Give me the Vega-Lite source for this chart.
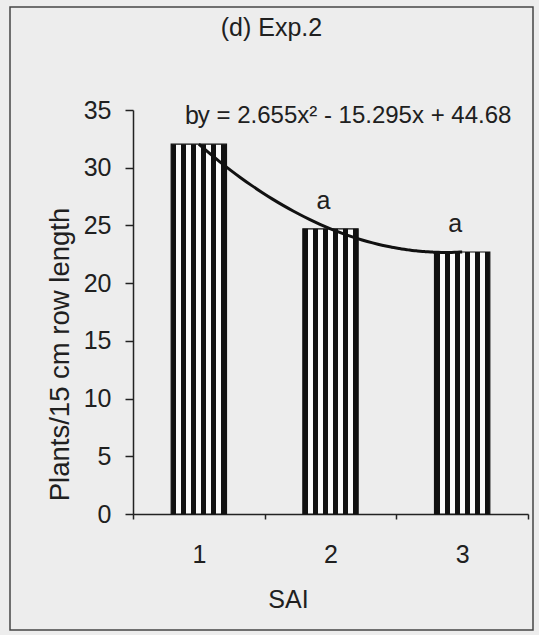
{
  "$schema": "https://vega.github.io/schema/vega-lite/v6.json",
  "width": 523,
  "height": 623,
  "autosize": {"type": "none"},
  "padding": {"left": 10, "top": 7, "right": 6, "bottom": 5},
  "background": "#ededed",
  "config": {
    "font": "Liberation Sans",
    "view": {"stroke": "#454545", "strokeWidth": 1.5},
    "axis": {
      "domainColor": "#222222",
      "domainWidth": 1.5,
      "tickColor": "#222222",
      "tickWidth": 1.5,
      "labelColor": "#202020",
      "titleColor": "#202020",
      "labelFont": "Liberation Sans",
      "titleFont": "Liberation Sans",
      "titleFontWeight": "normal",
      "grid": false
    }
  },
  "title": {
    "text": "(d) Exp.2",
    "fontSize": 25,
    "fontWeight": "normal",
    "color": "#202020",
    "anchor": "middle",
    "baseline": "middle",
    "offset": -46
  },
  "data": {
    "values": [
      {"sai": 1, "plants": 32.04, "letter": "b"},
      {"sai": 2, "plants": 24.71, "letter": "a"},
      {"sai": 3, "plants": 22.7, "letter": "a"}
    ]
  },
  "layer": [
    {
      "mark": {
        "type": "bar",
        "width": {"band": 0.42},
        "stroke": "#111111",
        "strokeWidth": 1.2,
        "color": {
          "gradient": "linear",
          "x1": 0, "x2": 1, "y1": 0, "y2": 0,
          "stops": [
            {"offset": 0, "color": "#111111"},
            {"offset": 0.095, "color": "#111111"},
            {"offset": 0.095, "color": "#fafafa"},
            {"offset": 0.181, "color": "#fafafa"},
            {"offset": 0.181, "color": "#111111"},
            {"offset": 0.276, "color": "#111111"},
            {"offset": 0.276, "color": "#fafafa"},
            {"offset": 0.362, "color": "#fafafa"},
            {"offset": 0.362, "color": "#111111"},
            {"offset": 0.457, "color": "#111111"},
            {"offset": 0.457, "color": "#fafafa"},
            {"offset": 0.543, "color": "#fafafa"},
            {"offset": 0.543, "color": "#111111"},
            {"offset": 0.638, "color": "#111111"},
            {"offset": 0.638, "color": "#fafafa"},
            {"offset": 0.724, "color": "#fafafa"},
            {"offset": 0.724, "color": "#111111"},
            {"offset": 0.819, "color": "#111111"},
            {"offset": 0.819, "color": "#fafafa"},
            {"offset": 0.905, "color": "#fafafa"},
            {"offset": 0.905, "color": "#111111"},
            {"offset": 1, "color": "#111111"}
          ]
        }
      },
      "encoding": {
        "x": {
          "field": "sai",
          "type": "ordinal",
          "scale": {"range": [123, 518], "paddingInner": 0, "paddingOuter": 0},
          "axis": {
            "title": "SAI",
            "offset": -116,
            "tickBand": "extent",
            "tickSize": 5,
            "labelAngle": 0,
            "labelPadding": 23,
            "labelFontSize": 25,
            "titleFontSize": 25,
            "titlePadding": 20,
            "titleX": 278
          }
        },
        "y": {
          "field": "plants",
          "type": "quantitative",
          "scale": {"domain": [0, 35], "range": [507, 103]},
          "axis": {
            "title": "Plants/15 cm row length",
            "values": [0, 5, 10, 15, 20, 25, 30, 35],
            "offset": -123,
            "tickSize": 8,
            "labelPadding": 14,
            "labelFontSize": 25,
            "titleFontSize": 27.5,
            "titlePadding": 9,
            "titleY": 347
          }
        }
      }
    },
    {
      "mark": {"type": "text", "fontSize": 25, "color": "#202020", "baseline": "middle", "dy": -28, "dx": -7},
      "encoding": {
        "x": {
          "field": "sai",
          "type": "ordinal",
          "scale": {"range": [123, 518], "paddingInner": 0, "paddingOuter": 0},
          "axis": null
        },
        "y": {
          "field": "plants",
          "type": "quantitative",
          "scale": {"domain": [0, 35], "range": [507, 103]}
        },
        "text": {"field": "letter"}
      }
    },
    {
      "transform": [
        {"regression": "plants", "on": "sai", "method": "poly", "order": 2, "extent": [1, 3]}
      ],
      "mark": {"type": "line", "color": "#111111", "strokeWidth": 3, "interpolate": "monotone"},
      "encoding": {
        "x": {
          "field": "sai",
          "type": "quantitative",
          "scale": {"domain": [0.5, 3.5], "range": [123, 518], "nice": false, "zero": false},
          "axis": null
        },
        "y": {
          "field": "plants",
          "type": "quantitative",
          "scale": {"domain": [0, 35], "range": [507, 103]}
        }
      }
    },
    {
      "data": {"values": [{"eq": "y = 2.655x² - 15.295x + 44.68"}]},
      "mark": {"type": "text", "fontSize": 24, "color": "#202020", "align": "left", "baseline": "middle", "dx": -1, "dy": 6},
      "encoding": {
        "x": {
          "datum": 1,
          "type": "quantitative",
          "scale": {"domain": [0.5, 3.5], "range": [123, 518], "nice": false, "zero": false},
          "axis": null
        },
        "y": {
          "datum": 35,
          "type": "quantitative",
          "scale": {"domain": [0, 35], "range": [507, 103]}
        },
        "text": {"field": "eq"}
      }
    }
  ],
  "resolve": {"scale": {"x": "independent"}}
}
